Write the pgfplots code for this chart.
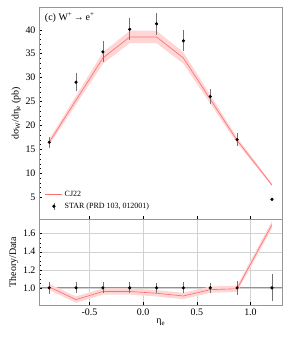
\documentclass[border=0pt]{standalone}
\usepackage{pgfplots}
\pgfplotsset{compat=1.18}
\usepackage{fontspec}
\setmainfont{Liberation Serif}
\definecolor{cjline}{RGB}{255,110,110}
\definecolor{cjband}{RGB}{255,214,214}
\definecolor{framec}{RGB}{150,150,150}
\begin{document}
\fontsize{10}{12}\selectfont
\begin{tikzpicture}
\pgfplotsset{
  every axis/.append style={
    scale only axis, width=243.7bp,
    xmin=-0.97, xmax=1.30,
    tick align=inside, tick pos=left,
    axis line style={framec, line width=0.8pt},
    every tick/.style={black, line width=0.5pt},
    major tick length=3.5pt, minor tick length=2pt,
    /pgf/number format/assume math mode=true,
    tick label style={font=\fontsize{10}{12}\selectfont},
    label style={font=\fontsize{10}{12}\selectfont},
    xtick={-0.5,0,0.5,1.0},
    xticklabel style={/pgf/number format/.cd,fixed,fixed zerofill,precision=1},
  }
}
% ratio panel
\begin{axis}[name=bot, at={(0,0)}, anchor=south west, height=85.7bp,
  ymin=0.81, ymax=1.76,
  ytick={1.0,1.2,1.4,1.6}, minor y tick num=3,
  yticklabel style={/pgf/number format/.cd,fixed,fixed zerofill,precision=1},
  grid=major, major grid style={gray!35, line width=0.5pt},
  xlabel={η\textsubscript{e}}, ylabel={Theory/Data},
  xlabel style={yshift=3pt}, ylabel style={yshift=-2pt},
]
\addplot[gray!85, line width=1.0pt, forget plot] coordinates {(-0.97,1)(1.30,1)};
\addplot[fill=cjband, draw=none, forget plot] coordinates {
(-0.875,1.045)(-0.625,0.905)(-0.375,0.995)(-0.125,0.995)(0.125,0.975)(0.375,0.945)(0.625,1.015)(0.875,1.025)(1.2,1.74)
(1.2,1.66)(0.875,0.955)(0.625,0.945)(0.375,0.875)(0.125,0.905)(-0.125,0.925)(-0.375,0.925)(-0.625,0.835)(-0.875,0.975)};
\addplot[cjline, line width=0.65pt, forget plot] coordinates {
(-0.875,1.01)(-0.625,0.87)(-0.375,0.96)(-0.125,0.96)(0.125,0.94)(0.375,0.91)(0.625,0.98)(0.875,0.99)(1.2,1.70)};
\addplot[only marks, mark=*, mark size=1.4pt, black,
  error bars/.cd, y dir=both, y explicit, error mark=none,
  error bar style={gray!90!black, line width=0.6pt}] coordinates {
(-0.875,1) +- (0,0.07)
(-0.625,1) +- (0,0.06)
(-0.375,1) +- (0,0.06)
(-0.125,1) +- (0,0.06)
(0.125,1) +- (0,0.055)
(0.375,1) +- (0,0.06)
(0.625,1) +- (0,0.055)
(0.875,1) +- (0,0.075)
(1.2,1) +- (0,0.15)};
\end{axis}
% main panel
\begin{axis}[name=top, at={(0,85.7bp)}, anchor=south west, height=212bp,
  ymin=0.4, ymax=44.7,
  ytick={5,10,...,40}, minor y tick num=4,
  xticklabels={},
  ylabel={dσ\textsubscript{W}/dη\textsubscript{e} (pb)},
  ylabel style={yshift=-2pt},
  legend style={draw=none, fill=none, at={(0.02,0.03)}, anchor=south west,
    font=\fontsize{8}{10}\selectfont, row sep=1pt, inner sep=1pt},
  legend cell align=left,
]
\addplot[fill=cjband, draw=none, forget plot] coordinates {
(-0.875,17.1)(-0.625,26.2)(-0.375,35.3)(-0.125,39.8)(0.125,39.8)(0.375,35.3)(0.625,26.4)(0.875,17.5)(1.2,7.85)
(1.2,7.3)(0.875,16.3)(0.625,24.6)(0.375,32.9)(0.125,37.2)(-0.125,37.2)(-0.375,32.9)(-0.625,24.4)(-0.875,15.9)};
\addplot[cjline, line width=0.65pt] coordinates {
(-0.875,16.5)(-0.625,25.3)(-0.375,34.1)(-0.125,38.5)(0.125,38.5)(0.375,34.1)(0.625,25.5)(0.875,16.9)(1.2,7.57)};
\addlegendentry{CJ22}
\addplot[only marks, mark=*, mark size=1.4pt, black,
  legend image code/.code={
    \draw[gray!90!black, line width=0.6pt] (0.3cm,-0.12cm) -- (0.3cm,0.12cm);
    \fill[black] (0.3cm,0) circle (1.4pt);},
  error bars/.cd, y dir=both, y explicit, error mark=none,
  error bar style={gray!90!black, line width=0.6pt}] coordinates {
(-0.875,16.5) +- (0,1.15)
(-0.625,29.06) +- (0,1.9)
(-0.375,35.4) +- (0,2.2)
(-0.125,40.1) +- (0,2.3)
(0.125,41.25) +- (0,2.3)
(0.375,37.7) +- (0,2.2)
(0.625,26.05) +- (0,1.5)
(0.875,17.05) +- (0,1.3)
(1.2,4.58) +- (0,0.3)};
\addlegendentry{STAR (PRD 103, 012001)}
\node[anchor=north west, font=\fontsize{10}{12}\selectfont] at (axis description cs:0.01,0.99) {(c) W\textsuperscript{+}\,→\,e\textsuperscript{+}};
\end{axis}
\useasboundingbox (-39bp,-34bp) rectangle (252bp,305bp);
\end{tikzpicture}
\end{document}
